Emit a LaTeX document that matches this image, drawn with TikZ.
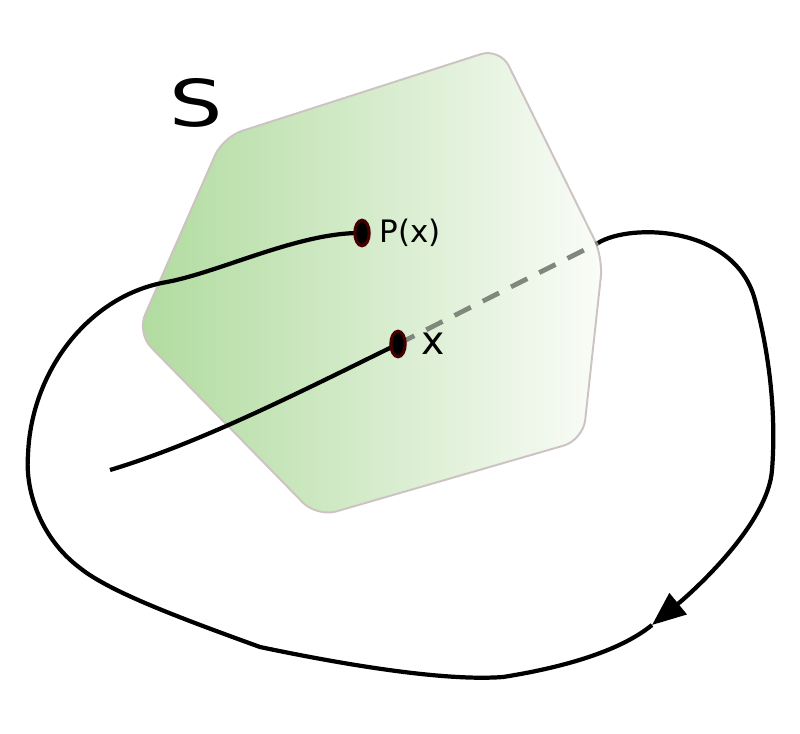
\documentclass[tikz,border=0pt]{standalone}
\usepackage{fontspec}
\setmainfont{DejaVu Sans}
\usetikzlibrary{arrows.meta,positioning,shapes.geometric}

\definecolor{setgreen}{RGB}{176,219,158}
\definecolor{setwhite}{RGB}{250,252,248}
\definecolor{setedge}{RGB}{205,195,195}
\definecolor{dotred}{RGB}{70,0,0}
\definecolor{dashgray}{RGB}{128,135,125}

\begin{document}
\begin{tikzpicture}[x=0.025cm, y=-0.025cm,
    curve/.style={line width=3pt},
    dot/.style={ellipse, draw=dotred, fill=black, line width=2.2pt, inner sep=0pt, minimum width=0.36cm, minimum height=0.64cm},
    lbl/.style={inner sep=0pt}]
    \useasboundingbox (0,0) rectangle (800,734);

    \shade[left color=setgreen, right color=setwhite, rounded corners=0.5cm]
        (223,137) -- (500,48) -- (603,257) -- (583,440) -- (317,517) -- (137,333) -- cycle;
    \draw[setedge, line width=1.4pt, rounded corners=0.5cm]
        (223,137) -- (500,48) -- (603,257) -- (583,440) -- (317,517) -- (137,333) -- cycle;

    \node[lbl, font=\fontsize{46}{50}\selectfont] (s) at (196,103) {\scalebox{1.3}[1]{S}};

    \coordinate (pc) at (362,233);
    \coordinate (xc) at (398,344);
    \coordinate (exit) at (598,243);
    \coordinate (tip) at (652,625);
    \coordinate (start) at (110,470);

    \draw[dashgray, line width=3.4pt, dash pattern=on 13pt off 9.5pt] (xc) -- (exit);
    \draw[curve] (start) .. controls (200,443) and (300,392) .. (xc);

    \draw[curve, -{Triangle[length=24pt,width=19pt]}] (exit) .. controls (630,223) and (735,225) .. (755,300)
        .. controls (771,360) and (776,420) .. (772,470)
        .. controls (768,525) and (690,594) .. (tip);
    \draw[curve] (tip) .. controls (619,652) and (560,668) .. (503,677)
        .. controls (450,681) and (360,668) .. (260,647)
        .. controls (180,618) and (110,592) .. (80,568)
        .. controls (40,538) and (25,490) .. (28,455)
        .. controls (31,370) and (90,295) .. (167,282)
        .. controls (220,272) and (300,232) .. (pc);

    \node[dot] (px) at (pc) {};
    \node[dot] (x) at (xc) {};
    \node[lbl, font=\fontsize{22}{26}\selectfont, right=6pt of px] (pxlabel) {P(x)};
    \node[lbl, font=\fontsize{28}{32}\selectfont, right=10pt of x] (xlabel) {x};
\end{tikzpicture}
\end{document}
